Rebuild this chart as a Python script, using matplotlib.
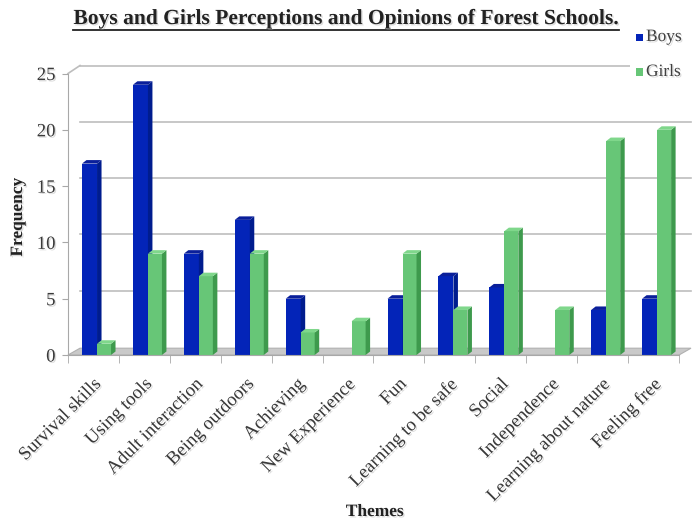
import matplotlib
matplotlib.use('Agg')
import matplotlib.pyplot as plt
import matplotlib.patheffects as pe
from matplotlib.patches import Polygon, Rectangle
from matplotlib.lines import Line2D
import numpy as np

themes = ["Survival skills", "Using tools", "Adult interaction", "Being outdoors",
          "Achieving", "New Experience", "Fun", "Learning to be safe", "Social",
          "Independence", "Learning about nature", "Feeling free"]
boys = [17, 24, 9, 12, 5, 0, 5, 7, 6, 0, 4, 5]
girls = [1, 9, 7, 9, 2, 3, 9, 4, 11, 4, 19, 20]
y_ticks = [0, 5, 10, 15, 20, 25]
series_names = ["Boys", "Girls"]
title = "Boys and Girls Perceptions and Opinions of Forest Schools."

plt.rcParams['font.family'] = ['Liberation Serif', 'DejaVu Serif']

shadow = [pe.withSimplePatchShadow(offset=(1, -1), shadow_rgbFace='#999999', alpha=0.35)]

W, H = 696, 524
fig = plt.figure(figsize=(W / 100, H / 100), dpi=100)
ax_left, ax_right = 68, 679
ax_bottom = 355
ppu_y = 11.26
ymax = 26
ax = fig.add_axes([ax_left / W, 1 - ax_bottom / H, (ax_right - ax_left) / W, ymax * ppu_y / H])
ax.set_xlim(-0.5, 11.5)
ax.set_ylim(0, ymax)
ax.patch.set_alpha(0)
ppu_x = (ax_right - ax_left) / 12.0


def dx(px):
    return px / ppu_x


def dy(px):
    return px / ppu_y


grid_c = '#BDBDBD'
axis_c = '#A8A8A8'
dxw, dyw = dx(12), dy(8)

# back wall gridlines
for v in y_ticks[1:]:
    ax.plot([-0.5 + dxw, 11.5 + dxw], [v + dyw, v + dyw], color=grid_c, lw=1.2,
            clip_on=False, zorder=1)
ax.plot([-0.5, -0.5 + dxw], [y_ticks[-1], y_ticks[-1] + dyw], color=grid_c, lw=1.2,
        clip_on=False, zorder=1)

# floor
floor = Polygon([(-0.5, 0), (11.5, 0), (11.5 + dxw, dyw * 0.85), (-0.5 + dxw, dyw * 0.85)],
                closed=True, facecolor='#C9C9C9', edgecolor='#B0B0B0', lw=0.8,
                clip_on=False, zorder=1.5)
ax.add_patch(floor)

x = np.arange(len(themes))
dxb, dyb = dx(4.5), dy(3.5)

boy_front, boy_side, boy_top = '#0324B8', '#001C8E', '#0A1F9A'
girl_front, girl_side, girl_top = '#67C677', '#3E9A4D', '#7FD78B'


def draw_bars(xs, vals, width, front, side, top, z):
    bars = ax.bar(xs, vals, width=width, align='edge', color=front, zorder=z,
                  edgecolor='none')
    for b in bars:
        x0, w, h = b.get_x(), b.get_width(), b.get_height()
        if h <= 0:
            continue
        ax.add_patch(Polygon([(x0 + w, 0), (x0 + w + dxb, dyb), (x0 + w + dxb, h + dyb),
                              (x0 + w, h)], closed=True, facecolor=side,
                             edgecolor='none', zorder=z + 0.1))
        ax.add_patch(Polygon([(x0, h), (x0 + w, h), (x0 + w + dxb, h + dyb),
                              (x0 + dxb, h + dyb)], closed=True, facecolor=top,
                             edgecolor='none', zorder=z + 0.2))
    return bars


draw_bars(x - 0.225, boys, 0.295, boy_front, boy_side, boy_top, 3)
draw_bars(x + 0.07, girls, 0.275, girl_front, girl_side, girl_top, 5)

# axes styling
for s in ['top', 'right']:
    ax.spines[s].set_visible(False)
ax.spines['left'].set_color(axis_c)
ax.spines['left'].set_bounds(0, 25)
ax.spines['bottom'].set_color(axis_c)
ax.spines['left'].set_zorder(6)
ax.spines['bottom'].set_zorder(6)

ax.set_yticks(y_ticks)
ax.set_yticklabels([str(v) for v in y_ticks])
ax.tick_params(axis='y', length=4, color=axis_c, labelsize=13.5, labelcolor='#3A3A3A', pad=5)

ax.set_xticks(x + 0.1)
ax.set_xticklabels(themes, rotation=45, ha='right', va='center', rotation_mode='anchor')
ax.tick_params(axis='x', which='major', length=0, labelsize=13.5, labelcolor='#3A3A3A', pad=19)
ax.set_xticks(np.arange(-0.5, 12, 1), minor=True)
ax.tick_params(axis='x', which='minor', length=6, color=axis_c)
for lbl in ax.get_xticklabels() + ax.get_yticklabels():
    lbl.set_path_effects(shadow)

# labels
fig.text(18 / W, 1 - 217 / H, 'Frequency', rotation=90, ha='center', va='center',
         fontsize=12.5, fontweight='bold', color='#222222', path_effects=shadow)
fig.text(375 / W, 1 - 512 / H, 'Themes', ha='center', va='center',
         fontsize=12.5, fontweight='bold', color='#222222', path_effects=shadow)

t = fig.text(346 / W, 1 - 19 / H, title, ha='center', va='center', fontsize=15.5,
             fontweight='bold', color='#222222', path_effects=shadow)

# legend (white box hides end of top gridline)
fig.patches.append(Rectangle((630 / W, 1 - 84 / H), 66 / W, 58 / H, transform=fig.transFigure,
                             facecolor='white', edgecolor='none', zorder=2))
for i, (name, col, yy) in enumerate([(series_names[0], boy_front, 37),
                                      (series_names[1], girl_front, 72)]):
    fig.patches.append(Rectangle((636 / W, 1 - (yy + 3.5) / H), 7 / W, 7 / H,
                                 transform=fig.transFigure, facecolor=col,
                                 edgecolor='none', zorder=3))
    fig.text(646 / W, 1 - yy / H, name, ha='left', va='center', fontsize=12.5,
             color='#404040', zorder=3, path_effects=shadow)

fig.canvas.draw()
bb = t.get_window_extent()
fig.add_artist(Line2D([bb.x0 / W, bb.x1 / W], [(bb.y0 - 1) / H, (bb.y0 - 1) / H],
                      transform=fig.transFigure, color='#222222', lw=1.3))

fig.savefig('out.png', dpi=100)
